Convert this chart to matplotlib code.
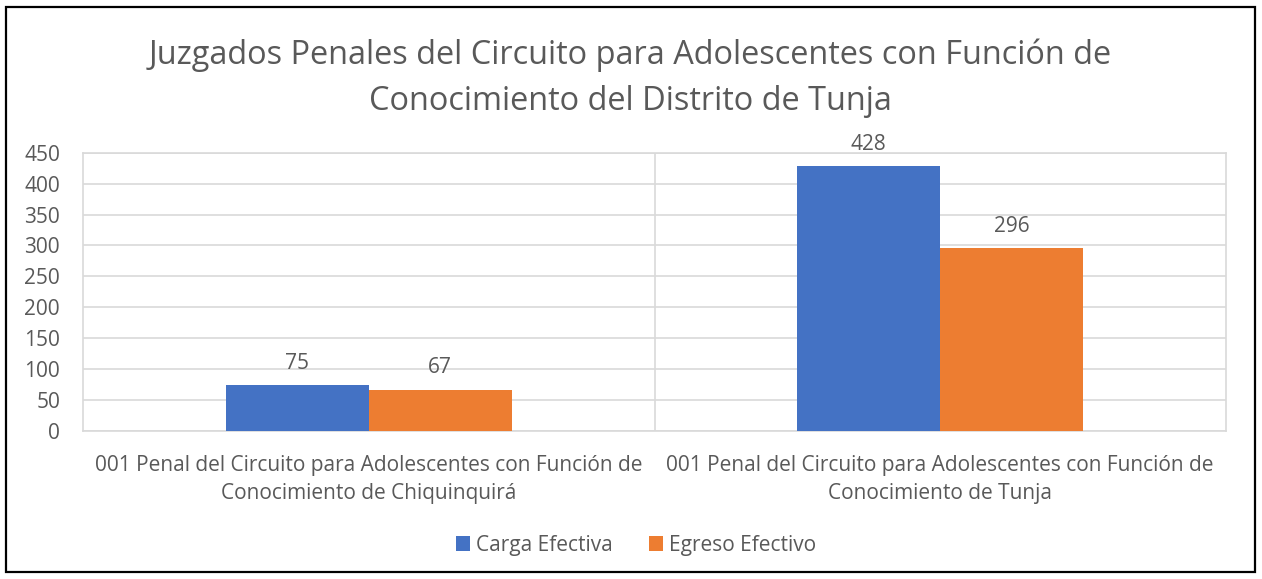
import matplotlib.pyplot as plt
import numpy as np
import matplotlib.patches as mpatches

# data
categories = ["001 Penal del Circuito para Adolescentes con Función de\nConocimiento de Chiquinquirá",
              "001 Penal del Circuito para Adolescentes con Función de\nConocimiento de Tunja"]
series_names = ["Carga Efectiva", "Egreso Efectivo"]
carga = [75, 428]
egreso = [67, 296]
yticks = [0, 50, 100, 150, 200, 250, 300, 350, 400, 450]

colors = ["#4472C4", "#ED7D31"]
txt = "#595959"
grid = "#D9D9D9"
plt.rcParams['font.family'] = ['Open Sans', 'DejaVu Sans']

W, H = 1262, 579
fig = plt.figure(figsize=(W / 100, H / 100), dpi=100)
ax = fig.add_axes([83 / W, 1 - 431 / H, (1226 - 83) / W, (431 - 152.7) / H])

x = np.arange(len(categories))
bw = 0.25
b1 = ax.bar(x - bw / 2, carga, bw, color=colors[0], label=series_names[0], zorder=3)
b2 = ax.bar(x + bw / 2, egreso, bw, color=colors[1], label=series_names[1], zorder=3)
for bars in (b1, b2):
    ax.bar_label(bars, padding=8, fontsize=15, color=txt)

ax.set_xlim(-0.5, len(categories) - 0.5)
ax.set_ylim(0, 450)
ax.set_yticks(yticks)
ax.yaxis.grid(True, color=grid, lw=1.2, zorder=0)
ax.axvline(0.5, color=grid, lw=1.2, zorder=0)
ax.set_xticks(x)
ax.set_xticklabels(categories, linespacing=1.45)
ax.tick_params(axis='both', length=0, labelsize=15, colors=txt)
ax.tick_params(axis='x', pad=17)
ax.tick_params(axis='y', pad=16.5)
for s in ax.spines.values():
    s.set_color(grid)
    s.set_linewidth(1.2)

fig.text(0.5 * (148 + 1112) / W, 1 - 78 / H,
         "Juzgados Penales del Circuito para Adolescentes con Función de\nConocimiento del Distrito de Tunja",
         ha='center', va='center', fontsize=23.4, color=txt, linespacing=1.5)

fig.legend(loc='center', bbox_to_anchor=(636 / W, 1 - 545 / H), ncol=2, frameon=False,
           fontsize=15, labelcolor=txt, handlelength=0.7, handleheight=0.7,
           handletextpad=0.3, columnspacing=1.7)

fig.add_artist(mpatches.Rectangle((6 / W, 1 - 572 / H), (1255 - 6) / W, (572 - 7) / H,
                                  transform=fig.transFigure, fill=False, ec='black', lw=1.6))

fig.savefig("out.png", dpi=100)
